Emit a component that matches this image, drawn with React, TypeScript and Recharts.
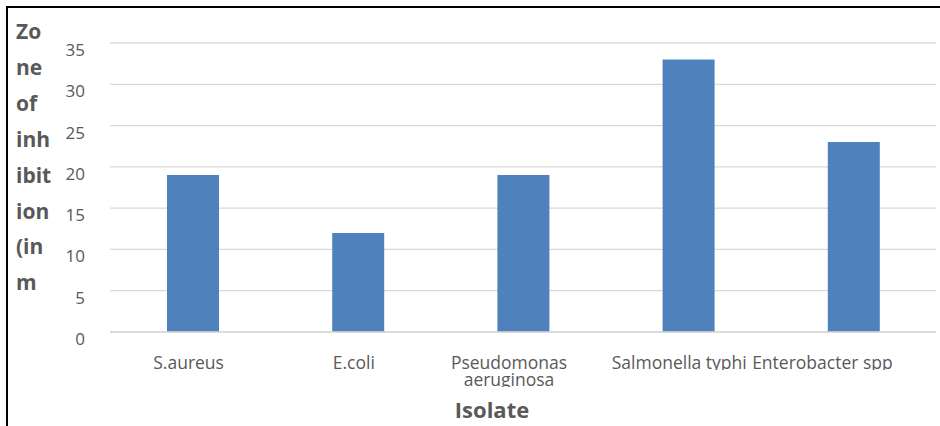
import React from 'react';
import { BarChart, Bar, XAxis, YAxis, CartesianGrid, Label } from 'recharts';

const isolates = ['S.aureus', 'E.coli', 'Pseudomonas aeruginosa', 'Salmonella typhi', 'Enterobacter spp'];
const zoneValues = [19, 12, 19, 33, 23];
const yTicks = [0, 5, 10, 15, 20, 25, 30, 35];
const yTitleLines = ['Zo', 'ne', 'of', 'inh', 'ibit', 'ion', '(in', 'm'];
const xTitle = 'Isolate';

const data = isolates.map((name, i) => ({ name, value: zoneValues[i] }));

const FONT = '"Open Sans", "Noto Sans", sans-serif';
const GREY = '#595959';

// Excel nudged the crowded category labels to the left
const labelNudge = [-4, -4, -14, -9, -31];

const wrap = (s: string) => (s.length > 18 ? s.split(' ') : [s]);

const XTick = (props: any) => {
  const { x, y, payload, index } = props;
  const lines = wrap(String(payload.value));
  const cx = x + (labelNudge[index] || 0);
  return (
    <g>
      {lines.map((line, i) => {
        const base = y + 29 + i * 17;
        const id = `xclip-${index}-${i}`;
        return (
          <g key={i}>
            <defs>
              <clipPath id={id}>
                <rect x={cx - 120} y={base - 20} width={240} height={21} />
              </clipPath>
            </defs>
            <text x={cx} y={base} textAnchor="middle" fill={GREY} fontSize={17.5} fontFamily={FONT} clipPath={`url(#${id})`}>
              {line}
            </text>
          </g>
        );
      })}
    </g>
  );
};

const YTick = (props: any) => {
  const { x, y, payload } = props;
  return (
    <text x={x} y={y + 13} textAnchor="end" fill={GREY} fontSize={17} fontFamily={FONT}>
      {payload.value}
    </text>
  );
};

const YTitle = () => (
  <text fill={GREY} fontSize={21} fontWeight="bold" fontFamily={FONT}>
    {yTitleLines.map((l, i) => (
      <tspan key={i} x={16} y={39 + i * 35.9}>
        {l}
      </tspan>
    ))}
  </text>
);

export default function App() {
  return (
    <div style={{ position: 'absolute', left: 0, top: 0, width: 940, height: 426, background: '#fff' }}>
      <div
        style={{
          position: 'absolute',
          left: 6,
          top: 6,
          right: 0,
          bottom: 0,
          borderTop: '2px solid #000',
          borderLeft: '2px solid #000',
        }}
      />
      <div style={{ position: 'absolute', left: 0, top: 0 }}>
        <BarChart width={940} height={426} data={data} margin={{ top: 43, right: 4, left: 0, bottom: 0 }}>
          <CartesianGrid vertical={false} stroke="#d9d9d9" strokeWidth={1.3} />
          <XAxis
            dataKey="name"
            height={94}
            tickLine={false}
            axisLine={{ stroke: '#d9d9d9', strokeWidth: 1.3 }}
            tick={<XTick />}
            interval={0}
          >
            <Label
              value={xTitle}
              position="insideBottom"
              offset={8}
              dx={-31}
              fill={GREY}
              fontSize={22}
              fontWeight="bold"
              fontFamily={FONT}
            />
          </XAxis>
          <YAxis
            width={110}
            domain={[0, 35]}
            ticks={yTicks}
            tickLine={false}
            axisLine={false}
            tickMargin={19}
            tick={<YTick />}
            label={{ content: () => <YTitle /> }}
          />
          <Bar dataKey="value" fill="#4f81bd" barSize={52} isAnimationActive={false} />
        </BarChart>
      </div>
    </div>
  );
}
